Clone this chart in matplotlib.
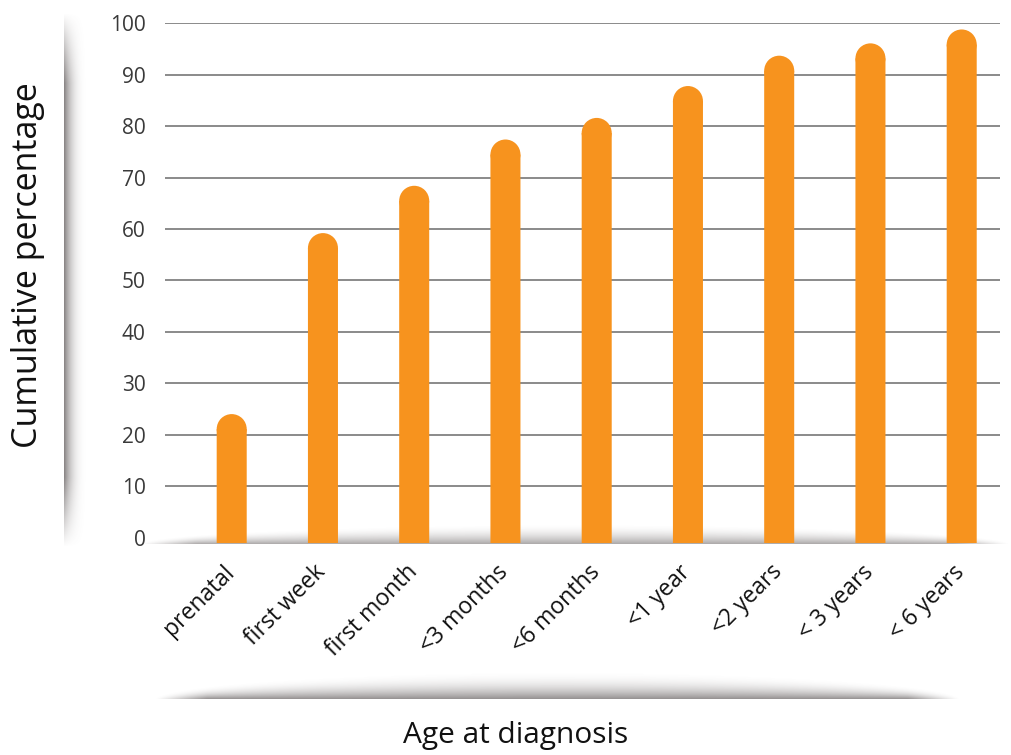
import numpy as np
import matplotlib.pyplot as plt
import matplotlib.transforms as mtransforms
from matplotlib.patches import Ellipse

# datos
categorias = ['prenatal', 'first week', 'first month', '<3 months', '<6 months',
              '<1 year', '<2 years', '< 3 years', '< 6 years']
porcentaje = [24, 59.2, 68.4, 77.4, 81.6, 87.8, 93.7, 96.1, 98.8]
ticks_y = [0, 10, 20, 30, 40, 50, 60, 70, 80, 90, 100]

naranja = '#F7931E'
gris_texto = '#3a3a3a'
W, H = 1012, 755

plt.rcParams['font.family'] = ['Open Sans', 'DejaVu Sans']

fig = plt.figure(figsize=(W / 100, H / 100), dpi=100)

# capa de sombras decorativas (coordenadas en pixeles)
fondo = fig.add_axes([0, 0, 1, 1], zorder=0)
fondo.set_xlim(0, W)
fondo.set_ylim(H, 0)
fondo.axis('off')


def sombra(x0, x1, y0, y1, alfa, color=(0.40, 0.38, 0.38)):
    # alfa(u, v): u de 0 a 1 horizontal, v de 0 a 1 vertical (de arriba a abajo)
    u, v = np.meshgrid(np.linspace(0, 1, 400), np.linspace(0, 1, 200))
    img = np.zeros(u.shape + (4,))
    img[..., 0], img[..., 1], img[..., 2] = color
    img[..., 3] = np.clip(alfa(u, v), 0, 1)
    fondo.imshow(img, extent=(x0, x1, y1, y0), aspect='auto', interpolation='bilinear')


def lente(u, v, maximo, pot=2.5):
    # sombra mas gruesa en el centro y fina en los extremos, oscura abajo
    grosor = np.clip(np.sin(np.pi * u), 1e-3, 1) ** 0.5
    return maximo * np.clip(1 - (1 - v) / grosor, 0, 1) ** pot * np.clip(np.sin(np.pi * u) * 5, 0, 1)


# sombra vertical a la izquierda
sombra(64, 90, 12, 548,
       lambda u, v: 0.8 * np.clip(1 - u, 0, 1) ** 3 * np.clip(np.sin(np.pi * v) * 2.5, 0, 1))
# sombra del eje x
sombra(140, 1010, 524, 544, lambda u, v: lente(u, v, 0.55, 1.8))
# sombra inferior
sombra(155, 960, 670, 699, lambda u, v: lente(u, v, 0.7, 2.2))

# ejes: 0 en y=537.5 px, 100 en y=23.3 px
y_cero, y_cien, y_base = 537.5, 23.3, 543
esc = (y_cero - y_cien) / 100
ymin = -(y_base - y_cero) / esc
x_izq = (165 - 231.7) / 91.25
x_der = (1000 - 231.7) / 91.25

ax = fig.add_axes([165 / W, 1 - y_base / H, (1000 - 165) / W, (y_base - y_cien) / H], zorder=1)
ax.patch.set_alpha(0)

x = np.arange(len(categorias))
ancho = 0.329
ax.set_xlim(x_izq, x_der)
ax.set_ylim(ymin, 100)

# radio de la tapa redondeada en unidades de datos
px_x = ax.bbox.width / (x_der - x_izq)
px_y = ax.bbox.height / (100 - ymin)
ry = ancho / 2 * px_x / px_y

ax.bar(x, np.array(porcentaje) - ry - ymin, bottom=ymin, width=ancho,
       color=naranja, zorder=3, snap=False, lw=0)
for xi, v in zip(x, porcentaje):
    ax.add_patch(Ellipse((xi, v - ry), ancho, 2 * ry, facecolor=naranja, zorder=3, lw=0))

ax.set_yticks(ticks_y)
ax.set_yticklabels([str(t) for t in ticks_y], fontsize=15, color=gris_texto)
ax.yaxis.grid(True, color='#8a8a8a', linewidth=1.4, zorder=1)
ax.yaxis.get_gridlines()[0].set_visible(False)
ax.set_axisbelow(True)
ax.tick_params(axis='y', length=0, pad=14)

ax.set_xticks(x)
ax.set_xticklabels(categorias, fontsize=16.5, color='#111111', rotation=45,
                   ha='right', va='top', rotation_mode='anchor')
ax.tick_params(axis='x', length=0, pad=16)
desplaza = mtransforms.ScaledTranslation(-0.09, 0.05, fig.dpi_scale_trans)
for lab in ax.get_xticklabels():
    lab.set_transform(lab.get_transform() + desplaza)

for s in ax.spines.values():
    s.set_visible(False)

fig.text(28 / W, 1 - 265 / H, 'Cumulative percentage', rotation=90, fontsize=24.5,
         color='#111111', ha='center', va='center')
fig.text(516 / W, 1 - 736 / H, 'Age at diagnosis', fontsize=21.5,
         color='#111111', ha='center', va='center')

fig.savefig('out.png', dpi=100)
